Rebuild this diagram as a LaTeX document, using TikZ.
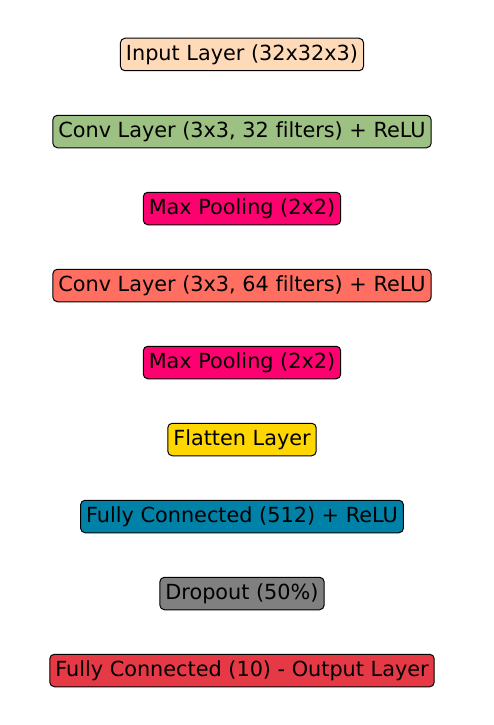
\documentclass[tikz,border=0pt]{standalone}
\usepackage{fontspec}
\setmainfont[Ligatures=NoCommon]{DejaVu Sans}
\usetikzlibrary{positioning}
\definecolor{inputcol}{HTML}{FFDAB9}
\definecolor{convacol}{HTML}{9DC183}
\definecolor{poolcol}{HTML}{FF0070}
\definecolor{convbcol}{HTML}{FF6F61}
\definecolor{flatcol}{HTML}{FFD700}
\definecolor{fccol}{HTML}{0081A7}
\definecolor{dropcol}{HTML}{808080}
\definecolor{outcol}{HTML}{E63946}

\begin{document}
\begin{tikzpicture}%
        [x=1bp, y=-1bp,
        node distance=77bp, on grid,
        layer/.style={draw=black, line width=1bp, rounded corners=4.5bp,
            inner xsep=5.5bp, inner ysep=0pt, minimum height=32.5bp,
            font=\fontsize{20.8bp}{24bp}\selectfont, text=black}]
    %
    %% Page frame
    \useasboundingbox (0,0) rectangle (494,725);
    %
    %% Drawing the layers
    \node[layer, fill=inputcol] (input) at (242,54.5) {Input Layer (32x32x3)};
    \node[layer, fill=convacol, below=of input] (conva) {Conv Layer (3x3, 32 filters) + ReLU};
    \node[layer, fill=poolcol, below=of conva] (poola) {Max Pooling (2x2)};
    \node[layer, fill=convbcol, below=of poola] (convb) {Conv Layer (3x3, 64 filters) + ReLU};
    \node[layer, fill=poolcol, below=of convb] (poolb) {Max Pooling (2x2)};
    \node[layer, fill=flatcol, below=of poolb] (flat) {Flatten Layer};
    \node[layer, fill=fccol, below=of flat] (fc) {Fully Connected (512) + ReLU};
    \node[layer, fill=dropcol, below=of fc] (drop) {Dropout (50\%)};
    \node[layer, fill=outcol, below=of drop] (output) {Fully Connected (10) - Output Layer};
    %%
\end{tikzpicture}
\end{document}
